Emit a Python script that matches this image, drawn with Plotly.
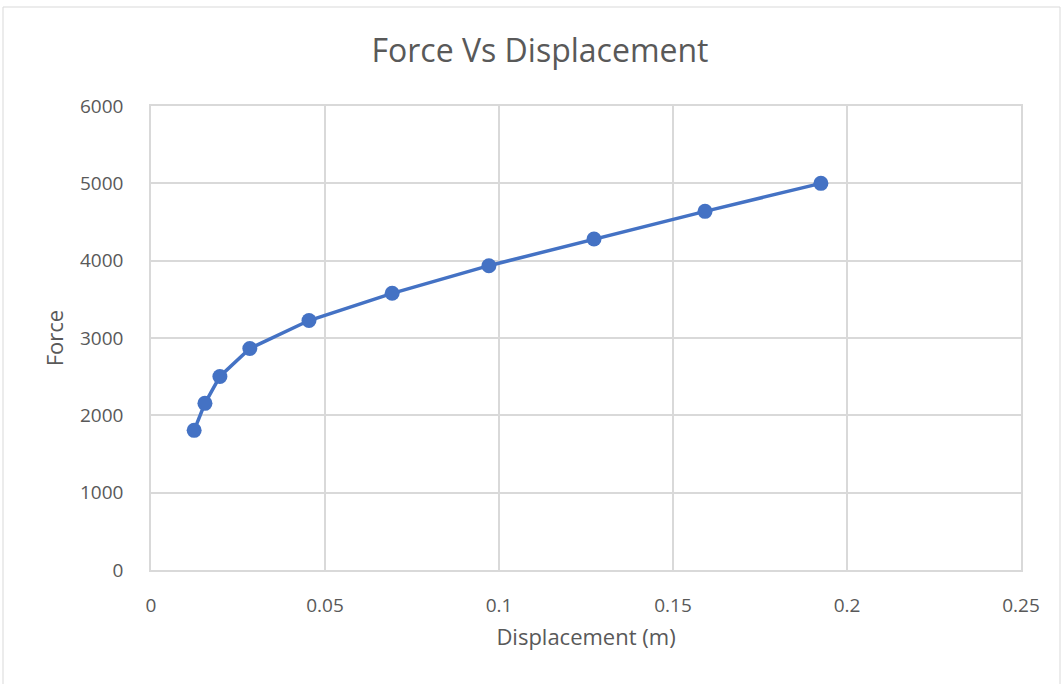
import plotly.graph_objects as go

displacement = [0.0124, 0.0155, 0.0198, 0.0284, 0.0454, 0.0693, 0.0971, 0.1273, 0.1592, 0.1925]
force = [1806, 2155, 2503, 2865, 3226, 3578, 3935, 4280, 4638, 5000]

x_ticks = [0, 0.05, 0.1, 0.15, 0.2, 0.25]
x_labels = ["0", "0.05", "0.1", "0.15", "0.2", "0.25"]
y_ticks = [0, 1000, 2000, 3000, 4000, 5000, 6000]

W, H = 1064, 684
L, R, T, B = 151, 43, 106, 114
pw, ph = W - L - R, H - T - B

font = "Open Sans"
txt = "#595959"
grid = "#d9d9d9"

fig = go.Figure(go.Scatter(
    x=displacement, y=force, mode="lines+markers",
    line=dict(color="#4472c4", width=3.5),
    marker=dict(color="#4472c4", size=15),
    showlegend=False,
))

def px(x):
    return (x - L) / pw

def py(y):
    return (H - B - y) / ph

fig.update_layout(
    width=W, height=H,
    margin=dict(l=L, r=R, t=T, b=B),
    paper_bgcolor="white", plot_bgcolor="white",
    font=dict(family=font, color=txt, size=19),
    title=dict(text="Force Vs Displacement", x=540 / W, xref="container", xanchor="center",
               y=1 - 51 / H, yref="container", yanchor="middle",
               font=dict(size=32, color=txt, family=font)),
    xaxis=dict(range=[0, 0.25], tickvals=x_ticks, ticktext=x_labels,
               tickfont=dict(size=19, color=txt, family=font),
               showgrid=True, gridcolor=grid, gridwidth=1.5,
               showline=True, linecolor=grid, linewidth=1.5, mirror=True,
               zeroline=False, ticklabelstandoff=17,
               title=dict(text="Displacement (m)", standoff=13, font=dict(size=22))),
    yaxis=dict(range=[0, 6000], tickvals=y_ticks,
               tickfont=dict(size=19, color=txt, family=font),
               showgrid=True, gridcolor=grid, gridwidth=1.5,
               showline=True, linecolor=grid, linewidth=1.5, mirror=True,
               zeroline=False, ticklabelstandoff=22,
               title=dict(text="Force", standoff=10, font=dict(size=22))),
    shapes=[dict(type="rect", xref="paper", yref="paper",
                 x0=px(3), x1=px(1060), y0=py(690), y1=py(7),
                 line=dict(color=grid, width=1), fillcolor="rgba(0,0,0,0)", layer="below")],
)

fig.write_html("out.html", config={"displayModeBar": False},
               post_script="document.body.style.margin='0';document.body.style.overflow='hidden';")
